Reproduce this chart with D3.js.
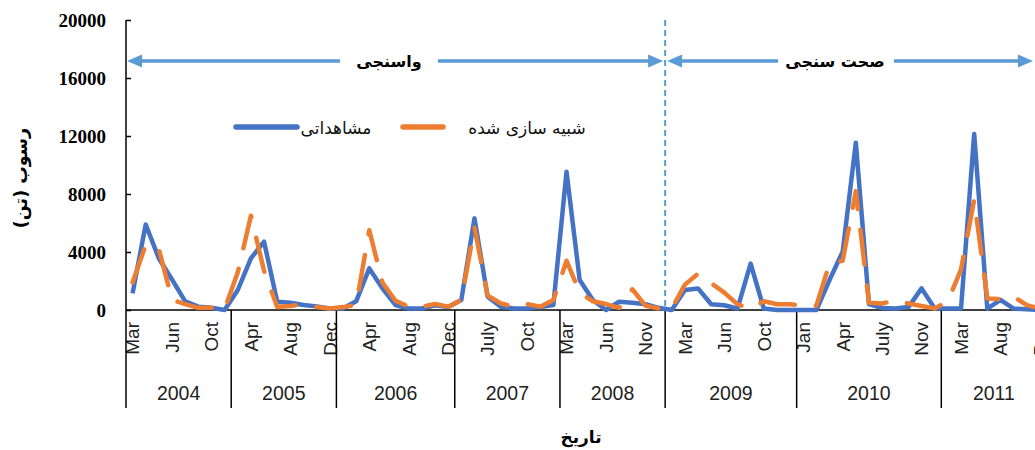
<!DOCTYPE html>
<html><head><meta charset="utf-8">
<script src="https://cdn.jsdelivr.net/npm/d3@7"></script>
<style>body{margin:0;background:#fff} svg{display:block}</style>
</head><body>
<svg id="chart" width="1035" height="450"></svg>
<script>
// ---- data ----
const months = [
 "Mar","Apr","May","Jun","Jul","Aug","Oct","Nov",
 "Mar","Apr","May","Jun","Aug","Sep","Oct","Dec",
 "Feb","Mar","Apr","May","Jun","Aug","Sep","Nov","Dec",
 "May","Jun","July","Aug","Sep","Oct","Nov","Dec",
 "Mar","Apr","May","Jun","Jul","Sep","Nov","Dec",
 "Feb","Mar","Apr","May","Jun","Jul","Aug","Oct","Nov","Dec",
 "Jan","Feb","Mar","Apr","May","Jun","July","Aug","Sep","Nov","Dec",
 "Feb","Mar","Apr","May","Aug","Sep","Oct","Dec"];
const years = [
 2004,2004,2004,2004,2004,2004,2004,2004,
 2005,2005,2005,2005,2005,2005,2005,2005,
 2006,2006,2006,2006,2006,2006,2006,2006,2006,
 2007,2007,2007,2007,2007,2007,2007,2007,
 2008,2008,2008,2008,2008,2008,2008,2008,
 2009,2009,2009,2009,2009,2009,2009,2009,2009,2009,
 2010,2010,2010,2010,2010,2010,2010,2010,2010,2010,2010,
 2011,2011,2011,2011,2011,2011,2011,2011];
const observed = [
 1150,5900,3550,2100,600,230,150,0,
 1380,3560,4710,570,500,350,250,100,
 100,600,2870,1500,340,100,100,320,200,
 690,6320,920,230,100,100,200,340,
 9540,2070,690,0,570,500,400,150,
 0,1380,1490,400,330,100,3200,100,0,0,
 0,0,2070,4020,11540,400,140,100,200,1490,100,
 100,100,12140,100,700,100,50,0];
const simulated = [
 1900,4500,4200,700,400,150,150,50,
 2600,6500,2700,200,280,390,200,100,
 200,340,5500,1900,640,230,230,410,230,
 690,5700,1000,460,230,410,230,690,
 3400,1200,600,410,150,1430,300,100,
 100,1750,2500,1850,1200,400,100,600,400,400,
 300,300,3200,3400,8200,500,450,650,450,280,100,
 600,2800,7600,800,740,920,340,100];
const yTicks = [0,4000,8000,12000,16000,20000];
const seriesNames = ["مشاهداتی","شبیه سازی شده"];
const periodNames = ["واسنجی","صحت سنجی"];
const yTitle = "رسوب (تن)";
const xTitle = "تاریخ";

// ---- layout ----
const svg = d3.select("#chart");
const plotLeft = 126, bandW = 13.15, plotTop = 20, plotBottom = 310;
const n = months.length;
const x = d3.scaleBand().domain(d3.range(n)).range([plotLeft, plotLeft + bandW * n]).padding(0);
const cx = i => x(i) + x.bandwidth() / 2;
const y = d3.scaleLinear().domain([0, 20000]).range([plotBottom, plotTop]);
const arabicFont = "'DejaVu Sans', 'Noto Sans', sans-serif";
const blue = "#4472C4", orange = "#ED7D31", lightBlue = "#5B9BD5";

// y axis
const yAxis = d3.axisLeft(y).tickValues(yTicks).tickSizeInner(-5).tickSizeOuter(0).tickPadding(20).tickFormat(d3.format("d"));
const gy = svg.append("g").attr("transform", `translate(${plotLeft},0)`).call(yAxis);
gy.select(".domain").remove();
gy.selectAll(".tick line").attr("stroke", "#000").attr("stroke-width", 1.5);
gy.selectAll(".tick text").attr("font-family", "'Liberation Serif', serif").attr("font-weight", "bold")
  .attr("font-size", 19).attr("fill", "#000");
svg.append("line").attr("x1", plotLeft).attr("x2", plotLeft).attr("y1", plotTop).attr("y2", plotBottom)
  .attr("stroke", "#000").attr("stroke-width", 1.5);

// x axis (month labels)
const xAxis = d3.axisBottom(x).tickValues(d3.range(n).filter(i => i % 3 === 0))
  .tickFormat(i => months[i]).tickSize(0).tickPadding(0);
const gx = svg.append("g").attr("transform", `translate(0,${plotBottom})`).call(xAxis);
gx.select(".domain").remove();
gx.selectAll(".tick text").attr("transform", "rotate(-90)").attr("text-anchor", "end")
  .attr("x", -12).attr("y", 0).attr("dy", "0.36em")
  .attr("font-family", "'Liberation Sans', Arial, sans-serif").attr("font-size", 19).attr("fill", "#222");
svg.append("line").attr("x1", plotLeft).attr("x2", x.range()[1]).attr("y1", plotBottom).attr("y2", plotBottom)
  .attr("stroke", "#000").attr("stroke-width", 1.5);

// year groups
const groups = [];
years.forEach((yr, i) => {
  if (!groups.length || groups[groups.length - 1].year !== yr) groups.push({ year: yr, start: i, end: i });
  else groups[groups.length - 1].end = i;
});
const bounds = [x(0)].concat(groups.map(g => x(g.end) + x.bandwidth()));
svg.selectAll(".sep").data(bounds).join("line").attr("class", "sep")
  .attr("x1", d => d).attr("x2", d => d).attr("y1", plotBottom).attr("y2", 408)
  .attr("stroke", "#000").attr("stroke-width", 1.5);
svg.selectAll(".yr").data(groups).join("text").attr("class", "yr")
  .attr("x", g => (x(g.start) + x(g.end) + x.bandwidth()) / 2).attr("y", 400)
  .attr("text-anchor", "middle").attr("font-family", "'Liberation Sans', Arial, sans-serif")
  .attr("font-size", 19.5).attr("fill", "#222").text(g => g.year);

// series
const line = d3.line().x((d, i) => cx(i)).y(d => y(d));
svg.append("path").datum(observed).attr("d", line).attr("fill", "none")
  .attr("stroke", blue).attr("stroke-width", 4.5).attr("stroke-linejoin", "round");
svg.append("path").datum(simulated).attr("d", line).attr("fill", "none")
  .attr("stroke", orange).attr("stroke-width", 4.5).attr("stroke-linejoin", "round")
  .attr("stroke-linecap", "round").attr("stroke-dasharray", "35,21");

// split line between calibration and validation
const splitX = x(groups.find(g => g.year === 2009).start);
svg.append("line").attr("x1", splitX).attr("x2", splitX).attr("y1", plotTop).attr("y2", plotBottom)
  .attr("stroke", lightBlue).attr("stroke-width", 2).attr("stroke-dasharray", "6,4");

// period arrows
const arrowY = 61;
function arrow(x1, x2) {
  const g = svg.append("g");
  g.append("line").attr("x1", x1 + 12).attr("x2", x2 - 12).attr("y1", arrowY).attr("y2", arrowY)
    .attr("stroke", lightBlue).attr("stroke-width", 3.3);
  g.append("path").attr("d", `M${x1},${arrowY} L${x1 + 15},${arrowY - 6.5} L${x1 + 15},${arrowY + 6.5} Z`).attr("fill", lightBlue);
  g.append("path").attr("d", `M${x2},${arrowY} L${x2 - 15},${arrowY - 6.5} L${x2 - 15},${arrowY + 6.5} Z`).attr("fill", lightBlue);
  return g;
}
const a1 = arrow(plotLeft + 1, splitX - 2);
a1.append("rect").attr("x", 340).attr("y", 48).attr("width", 98).attr("height", 26).attr("fill", "#fff");
a1.append("text").attr("x", 389).attr("y", 67).attr("text-anchor", "middle").attr("font-family", arabicFont)
  .attr("font-weight", "bold").attr("font-size", 16).attr("fill", "#000").text(periodNames[0]);
const a2 = arrow(splitX + 2, 1033);
a2.append("rect").attr("x", 778).attr("y", 48).attr("width", 116).attr("height", 26).attr("fill", "#fff");
a2.append("text").attr("x", 835).attr("y", 67).attr("text-anchor", "middle").attr("font-family", arabicFont)
  .attr("font-weight", "bold").attr("font-size", 16).attr("fill", "#000").text(periodNames[1]);

// legend
const legend = [
  { name: seriesNames[0], color: blue, x1: 236, x2: 297, tx: 336 },
  { name: seriesNames[1], color: orange, x1: 403, x2: 443, tx: 527 }];
const lg = svg.selectAll(".lg").data(legend).join("g").attr("class", "lg");
lg.append("line").attr("x1", d => d.x1).attr("x2", d => d.x2).attr("y1", 127).attr("y2", 127)
  .attr("stroke", d => d.color).attr("stroke-width", 5.5).attr("stroke-linecap", "round");
lg.append("text").attr("x", d => d.tx).attr("y", 134).attr("text-anchor", "middle")
  .attr("font-family", arabicFont).attr("font-size", 17).attr("fill", "#111").text(d => d.name);

// axis titles
svg.append("text").attr("transform", "translate(27,178) rotate(-90)").attr("text-anchor", "middle")
  .attr("font-family", arabicFont).attr("font-weight", "bold").attr("font-size", 17.5).attr("fill", "#000").text(yTitle);
svg.append("text").attr("x", 581).attr("y", 443).attr("text-anchor", "middle")
  .attr("font-family", arabicFont).attr("font-weight", "bold").attr("font-size", 17).attr("fill", "#000").text(xTitle);
</script>
</body></html>
